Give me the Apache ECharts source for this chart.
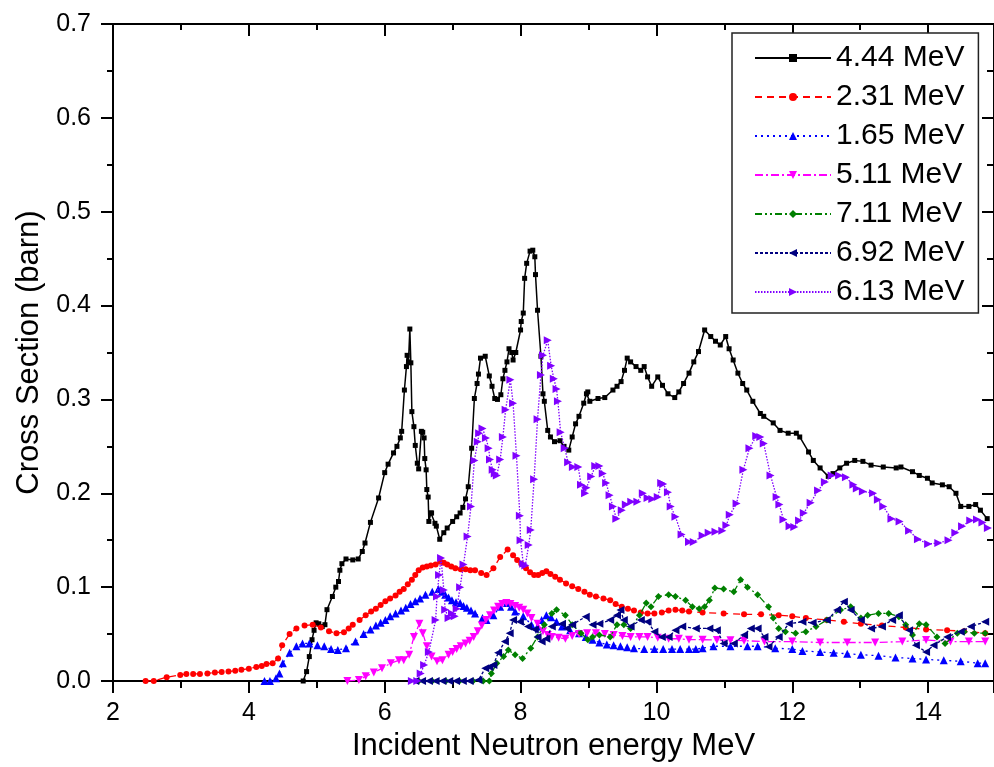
<!DOCTYPE html>
<html>
<head>
<meta charset="utf-8">
<script src="https://cdn.jsdelivr.net/npm/echarts@6/dist/echarts.min.js"></script>
<style>
html,body{margin:0;padding:0;background:#fff;}
#c{width:994px;height:767px;}
</style>
</head>
<body>
<div id="c"></div>
<script>
// ---- data (energy MeV, cross section barn) ----
const names = ['4.44 MeV','2.31 MeV','1.65 MeV','5.11 MeV','7.11 MeV','6.92 MeV','6.13 MeV'];
const xTicks = [2,4,6,8,10,12,14];
const yTicks = [0.0,0.1,0.2,0.3,0.4,0.5,0.6,0.7];

const s444 = [[4.80,0],[4.85,0.010],[4.89,0.026],[4.93,0.044],[4.96,0.054],[4.99,0.062],[5.03,0.061],[5.08,0.058],[5.12,0.060],[5.15,0.076],[5.23,0.090],[5.28,0.100],[5.32,0.106],[5.34,0.118],[5.37,0.125],[5.43,0.130],[5.53,0.129],[5.61,0.130],[5.67,0.138],[5.71,0.147],[5.79,0.169],[5.91,0.195],[6.00,0.222],[6.05,0.231],[6.13,0.243],[6.18,0.250],[6.23,0.259],[6.25,0.266],[6.29,0.310],[6.32,0.335],[6.33,0.347],[6.35,0.340],[6.37,0.375],[6.385,0.339],[6.40,0.287],[6.43,0.271],[6.45,0.251],[6.48,0.232],[6.50,0.226],[6.54,0.266],[6.56,0.265],[6.58,0.259],[6.59,0.237],[6.61,0.225],[6.62,0.204],[6.64,0.196],[6.65,0.170],[6.68,0.179],[6.69,0.179],[6.74,0.168],[6.76,0.165],[6.81,0.151],[6.87,0.158],[6.92,0.163],[7.00,0.170],[7.06,0.175],[7.11,0.179],[7.15,0.185],[7.19,0.194],[7.23,0.207],[7.28,0.248],[7.32,0.301],[7.36,0.317],[7.38,0.327],[7.41,0.344],[7.48,0.346],[7.54,0.325],[7.58,0.314],[7.62,0.301],[7.66,0.300],[7.71,0.305],[7.74,0.322],[7.77,0.331],[7.80,0.340],[7.83,0.354],[7.87,0.350],[7.89,0.342],[7.93,0.350],[8.00,0.374],[8.01,0.383],[8.04,0.392],[8.06,0.429],[8.09,0.445],[8.14,0.458],[8.18,0.459],[8.21,0.452],[8.22,0.433],[8.25,0.395],[8.30,0.346],[8.33,0.306],[8.35,0.298],[8.40,0.267],[8.44,0.260],[8.50,0.255],[8.58,0.256],[8.64,0.250],[8.71,0.246],[8.76,0.260],[8.81,0.274],[8.86,0.282],[8.93,0.296],[8.97,0.306],[8.99,0.308],[9.02,0.298],[9.14,0.301],[9.24,0.302],[9.36,0.310],[9.42,0.314],[9.48,0.319],[9.53,0.331],[9.57,0.344],[9.62,0.340],[9.70,0.335],[9.77,0.331],[9.82,0.335],[9.87,0.324],[9.93,0.314],[10.02,0.324],[10.09,0.315],[10.17,0.306],[10.27,0.302],[10.33,0.308],[10.40,0.317],[10.48,0.328],[10.55,0.340],[10.62,0.351],[10.71,0.374],[10.80,0.367],[10.87,0.362],[10.94,0.358],[11.02,0.367],[11.07,0.354],[11.13,0.342],[11.20,0.328],[11.27,0.317],[11.33,0.310],[11.42,0.298],[11.53,0.285],[11.58,0.282],[11.72,0.275],[11.82,0.267],[11.94,0.264],[12.06,0.264],[12.11,0.260],[12.24,0.244],[12.31,0.235],[12.41,0.227],[12.53,0.218],[12.60,0.221],[12.70,0.227],[12.80,0.232],[12.92,0.235],[13.04,0.234],[13.16,0.230],[13.34,0.228],[13.53,0.227],[13.60,0.228],[13.77,0.223],[13.87,0.219],[13.99,0.216],[14.06,0.211],[14.21,0.209],[14.31,0.207],[14.41,0.200],[14.48,0.186],[14.60,0.186],[14.70,0.188],[14.77,0.182],[14.87,0.173]];

const s231 = [[2.48,0],[2.60,0],[2.79,0.004],[2.99,0.0064],[3.08,0.0075],[3.18,0.0075],[3.28,0.0075],[3.39,0.008],[3.50,0.009],[3.60,0.0095],[3.70,0.010],[3.80,0.011],[3.89,0.012],[4.00,0.013],[4.11,0.015],[4.19,0.016],[4.26,0.018],[4.35,0.019],[4.43,0.024],[4.49,0.038],[4.60,0.050],[4.70,0.056],[4.82,0.059],[4.94,0.060],[5.06,0.057],[5.18,0.053],[5.29,0.051],[5.40,0.052],[5.47,0.056],[5.53,0.060],[5.63,0.065],[5.72,0.070],[5.80,0.074],[5.87,0.077],[5.94,0.081],[6.01,0.085],[6.08,0.088],[6.16,0.091],[6.22,0.095],[6.28,0.098],[6.34,0.103],[6.40,0.108],[6.45,0.113],[6.50,0.118],[6.56,0.121],[6.62,0.122],[6.68,0.123],[6.75,0.124],[6.82,0.127],[6.87,0.126],[6.92,0.124],[6.98,0.122],[7.04,0.120],[7.12,0.119],[7.19,0.119],[7.26,0.118],[7.33,0.118],[7.42,0.115],[7.50,0.113],[7.60,0.120],[7.70,0.132],[7.81,0.140],[7.89,0.134],[7.95,0.129],[8.01,0.125],[8.08,0.120],[8.14,0.116],[8.20,0.113],[8.26,0.113],[8.32,0.115],[8.38,0.117],[8.44,0.114],[8.51,0.111],[8.58,0.108],[8.67,0.104],[8.76,0.101],[8.85,0.098],[8.94,0.095],[9.02,0.092],[9.11,0.090],[9.22,0.088],[9.32,0.086],[9.40,0.082],[9.49,0.079],[9.58,0.077],[9.67,0.075],[9.77,0.073],[9.87,0.072],[9.97,0.072],[10.08,0.073],[10.18,0.075],[10.28,0.076],[10.38,0.075],[10.48,0.074],[10.68,0.073],[10.99,0.072],[11.29,0.071],[11.54,0.071],[11.80,0.070],[12.00,0.069],[12.20,0.067],[12.51,0.065],[12.76,0.063],[13.01,0.061],[13.32,0.059],[13.67,0.057],[13.97,0.055],[14.28,0.054],[14.53,0.053],[14.84,0.051]];

const s165 = [[4.23,0],[4.31,0],[4.40,0.003],[4.45,0.008],[4.50,0.019],[4.60,0.030],[4.70,0.037],[4.79,0.040],[4.89,0.040],[5.01,0.038],[5.11,0.037],[5.21,0.034],[5.31,0.033],[5.43,0.035],[5.57,0.042],[5.69,0.050],[5.79,0.055],[5.87,0.059],[5.94,0.062],[6.01,0.065],[6.08,0.069],[6.16,0.072],[6.24,0.075],[6.31,0.078],[6.38,0.082],[6.45,0.085],[6.52,0.088],[6.60,0.092],[6.70,0.095],[6.79,0.098],[6.84,0.095],[6.89,0.092],[6.94,0.089],[6.99,0.086],[7.05,0.084],[7.11,0.083],[7.16,0.080],[7.21,0.078],[7.27,0.075],[7.33,0.072],[7.44,0.067],[7.50,0.065],[7.60,0.070],[7.70,0.079],[7.80,0.083],[7.86,0.079],[7.92,0.074],[8.04,0.069],[8.16,0.060],[8.25,0.058],[8.31,0.065],[8.38,0.070],[8.45,0.068],[8.53,0.063],[8.61,0.058],[8.73,0.054],[8.86,0.051],[8.96,0.047],[9.06,0.044],[9.16,0.041],[9.27,0.039],[9.37,0.038],[9.47,0.037],[9.57,0.036],[9.67,0.035],[9.82,0.034],[9.97,0.034],[10.10,0.034],[10.23,0.034],[10.35,0.034],[10.48,0.034],[10.58,0.034],[10.68,0.035],[10.84,0.037],[11.09,0.037],[11.34,0.037],[11.49,0.037],[11.75,0.035],[12.00,0.034],[12.15,0.032],[12.41,0.031],[12.61,0.030],[12.81,0.029],[13.01,0.028],[13.27,0.027],[13.52,0.025],[13.77,0.024],[13.97,0.023],[14.23,0.022],[14.48,0.021],[14.73,0.019],[14.84,0.019]];

const s511 = [[5.45,0],[5.62,0.001],[5.72,0.005],[5.84,0.009],[5.96,0.0135],[6.09,0.019],[6.21,0.022],[6.28,0.022],[6.36,0.028],[6.43,0.047],[6.51,0.061],[6.56,0.051],[6.62,0.037],[6.69,0.026],[6.77,0.021],[6.85,0.022],[6.94,0.028],[7.00,0.031],[7.06,0.034],[7.12,0.037],[7.19,0.040],[7.25,0.043],[7.31,0.047],[7.37,0.053],[7.43,0.059],[7.49,0.065],[7.55,0.070],[7.61,0.075],[7.67,0.079],[7.73,0.082],[7.79,0.083],[7.85,0.082],[7.92,0.080],[7.98,0.078],[8.04,0.076],[8.10,0.072],[8.16,0.067],[8.25,0.061],[8.33,0.053],[8.40,0.049],[8.46,0.047],[8.56,0.046],[8.66,0.045],[8.76,0.048],[8.86,0.050],[8.98,0.051],[9.11,0.051],[9.24,0.050],[9.37,0.049],[9.50,0.048],[9.62,0.047],[9.75,0.047],[9.87,0.047],[10.02,0.046],[10.18,0.045],[10.33,0.045],[10.48,0.044],[10.68,0.044],[10.89,0.0437],[11.09,0.0435],[11.29,0.043],[11.59,0.042],[12.00,0.042],[12.41,0.041],[12.81,0.041],[13.22,0.041],[13.62,0.042],[13.97,0.0437],[14.33,0.042],[14.60,0.042],[14.84,0.042]];

const s711 = [[6.50,0],[6.70,0],[6.90,0],[7.10,0],[7.30,0],[7.45,0],[7.54,0],[7.57,0.008],[7.65,0.019],[7.75,0.026],[7.82,0.033],[7.92,0.028],[8.03,0.024],[8.15,0.035],[8.25,0.047],[8.35,0.060],[8.46,0.072],[8.53,0.076],[8.66,0.070],[8.76,0.060],[8.89,0.051],[8.99,0.044],[9.06,0.047],[9.16,0.049],[9.32,0.047],[9.42,0.060],[9.52,0.060],[9.62,0.056],[9.75,0.070],[9.85,0.083],[9.92,0.079],[10.03,0.090],[10.18,0.092],[10.28,0.090],[10.43,0.086],[10.53,0.079],[10.63,0.077],[10.71,0.079],[10.78,0.086],[10.86,0.099],[10.99,0.098],[11.14,0.095],[11.24,0.108],[11.34,0.100],[11.49,0.092],[11.65,0.079],[11.72,0.067],[11.80,0.056],[11.90,0.0526],[12.05,0.051],[12.20,0.0526],[12.35,0.058],[12.51,0.065],[12.71,0.0756],[12.86,0.079],[13.01,0.067],[13.11,0.070],[13.27,0.072],[13.42,0.072],[13.57,0.0685],[13.67,0.060],[13.77,0.049],[13.87,0.061],[13.97,0.060],[14.13,0.047],[14.25,0.040],[14.43,0.051],[14.53,0.0526],[14.68,0.051],[14.84,0.051]];

const s692 = [[6.45,0],[6.55,0],[6.65,0],[6.75,0],[6.85,0],[6.95,0],[7.05,0],[7.15,0],[7.25,0],[7.38,0.001],[7.48,0.0135],[7.54,0.015],[7.60,0.017],[7.67,0.030],[7.77,0.042],[7.84,0.051],[7.89,0.065],[7.99,0.063],[8.11,0.058],[8.21,0.055],[8.25,0.047],[8.31,0.042],[8.38,0.045],[8.46,0.058],[8.61,0.061],[8.68,0.056],[8.76,0.060],[8.96,0.0685],[9.06,0.060],[9.16,0.061],[9.32,0.065],[9.42,0.070],[9.47,0.0756],[9.52,0.065],[9.62,0.058],[9.77,0.065],[9.87,0.063],[9.97,0.0526],[10.08,0.047],[10.18,0.047],[10.28,0.054],[10.38,0.058],[10.58,0.056],[10.78,0.056],[10.89,0.054],[10.99,0.040],[11.14,0.040],[11.29,0.049],[11.39,0.056],[11.49,0.056],[11.59,0.047],[11.65,0.0366],[11.80,0.047],[11.95,0.061],[12.15,0.063],[12.30,0.062],[12.51,0.065],[12.66,0.0756],[12.76,0.0845],[12.86,0.0756],[13.01,0.065],[13.16,0.056],[13.32,0.058],[13.47,0.065],[13.57,0.070],[13.72,0.054],[13.82,0.038],[13.97,0.031],[14.08,0.038],[14.28,0.047],[14.48,0.0526],[14.63,0.058],[14.84,0.063]];

const s613 = [[6.40,0],[6.48,0],[6.53,0.008],[6.58,0.017],[6.65,0.031],[6.75,0.065],[6.77,0.090],[6.80,0.113],[6.83,0.131],[6.87,0.097],[6.89,0.076],[6.94,0.067],[6.99,0.072],[7.03,0.069],[7.06,0.077],[7.11,0.100],[7.16,0.124],[7.22,0.154],[7.27,0.186],[7.32,0.235],[7.37,0.255],[7.39,0.264],[7.44,0.269],[7.49,0.259],[7.53,0.248],[7.55,0.236],[7.59,0.225],[7.62,0.221],[7.65,0.219],[7.70,0.236],[7.74,0.260],[7.78,0.289],[7.85,0.321],[7.89,0.296],[7.94,0.240],[7.99,0.176],[8.00,0.150],[8.04,0.125],[8.07,0.123],[8.12,0.145],[8.15,0.161],[8.20,0.215],[8.25,0.279],[8.30,0.326],[8.33,0.347],[8.40,0.363],[8.45,0.336],[8.49,0.322],[8.53,0.311],[8.55,0.298],[8.59,0.265],[8.65,0.248],[8.70,0.233],[8.77,0.228],[8.85,0.228],[8.89,0.209],[8.95,0.200],[8.97,0.206],[9.04,0.218],[9.10,0.229],[9.16,0.229],[9.21,0.221],[9.26,0.211],[9.31,0.198],[9.36,0.186],[9.41,0.173],[9.49,0.182],[9.55,0.188],[9.63,0.191],[9.72,0.191],[9.80,0.200],[9.87,0.195],[9.94,0.194],[10.02,0.196],[10.07,0.211],[10.10,0.210],[10.17,0.201],[10.21,0.186],[10.28,0.175],[10.37,0.156],[10.48,0.148],[10.55,0.148],[10.68,0.155],[10.77,0.158],[10.87,0.159],[10.97,0.160],[11.03,0.166],[11.08,0.177],[11.18,0.189],[11.28,0.225],[11.37,0.248],[11.47,0.261],[11.53,0.260],[11.58,0.253],[11.68,0.219],[11.77,0.196],[11.81,0.188],[11.87,0.172],[11.96,0.165],[12.03,0.164],[12.10,0.171],[12.17,0.179],[12.27,0.190],[12.38,0.203],[12.48,0.212],[12.58,0.219],[12.69,0.219],[12.79,0.217],[12.90,0.209],[12.95,0.205],[13.04,0.202],[13.19,0.200],[13.26,0.193],[13.34,0.186],[13.46,0.173],[13.58,0.170],[13.72,0.160],[13.85,0.151],[14.00,0.146],[14.15,0.147],[14.30,0.150],[14.40,0.158],[14.50,0.165],[14.62,0.171],[14.72,0.172],[14.80,0.169],[14.88,0.163]];

const seriesData = [s444, s231, s165, s511, s711, s692, s613];

// ---- styles ----
const styles = [
  {color:'#000000', dash:'solid', sym:'rect', size:5, rot:0, w:1.5},
  {color:'#FF0000', dash:[7,5], sym:'circle', size:6, rot:0, w:1.3},
  {color:'#0000FF', dash:[2,4], sym:'triangle', size:8, rot:0, w:1.3},
  {color:'#FF00FF', dash:[8,3,2,3], sym:'triangle', size:8, rot:180, w:1.3},
  {color:'#008000', dash:[7,3,2,3,2,3], sym:'diamond', size:7, rot:0, w:1.3},
  {color:'#000080', dash:[3,2], sym:'triangle', size:8, rot:90, w:1.3},
  {color:'#8000FF', dash:[1.5,1.5], sym:'triangle', size:8, rot:-90, w:1.3}
];

const FONT = 'Liberation Sans, Arial, sans-serif';
const chart = echarts.init(document.getElementById('c'), null, {renderer:'canvas'});

const series = seriesData.map((d,i)=>({
  name: names[i],
  type: 'line',
  data: d,
  xAxisIndex: 0, yAxisIndex: 0,
  symbol: styles[i].sym,
  symbolSize: styles[i].size,
  symbolRotate: styles[i].rot,
  showAllSymbol: true,
  lineStyle: {color: styles[i].color, width: styles[i].w, type: styles[i].dash},
  itemStyle: {color: styles[i].color, borderWidth: 0},
  emphasis: {disabled: true},
  z: 2 + i
}));

const axisLineStyle = {color:'#000', width:2};
const xMin = xTicks[0], xMax = 14.97, yMin = yTicks[0], yMax = yTicks[yTicks.length-1];

chart.setOption({
  animation: false,
  backgroundColor: '#fff',
  grid: {left: 113, right: -5, top: 24, bottom: 86, containLabel: false},
  legend: {
    orient: 'vertical',
    left: 732, top: 33,
    padding: [8, 14, 4, 22],
    itemWidth: 76, itemHeight: 10, itemGap: 5,
    backgroundColor: '#fff',
    borderColor: '#222', borderWidth: 1.5, borderRadius: 0,
    textStyle: {fontFamily: FONT, fontSize: 30, color: '#000', lineHeight: 34},
    data: names
  },
  xAxis: [{
    type: 'value', position: 'bottom', min: xMin, max: xMax, interval: 2,
    name: 'Incident Neutron energy MeV', nameLocation: 'middle', nameGap: 48,
    nameTextStyle: {fontFamily: FONT, fontSize: 31, color: '#000'},
    axisLine: {show: true, onZero: false, lineStyle: axisLineStyle},
    axisTick: {show: true, inside: false, length: 12, lineStyle: {color:'#000', width: 2}},
    minorTick: {show: true, splitNumber: 2, length: 7, lineStyle: {color:'#000', width: 2}},
    axisLabel: {fontFamily: FONT, fontSize: 25, color: '#000', margin: 20, showMaxLabel: false},
    splitLine: {show: false}
  },{
    type: 'value', position: 'top', min: xMin, max: xMax, interval: 2,
    axisLine: {show: true, onZero: false, lineStyle: axisLineStyle},
    axisTick: {show: true, inside: true, length: 12, lineStyle: {color:'#000', width: 2}},
    minorTick: {show: true, splitNumber: 2, length: 6, lineStyle: {color:'#000', width: 2}},
    axisLabel: {show: false},
    splitLine: {show: false}
  }],
  yAxis: [{
    type: 'value', position: 'left', min: yMin, max: yMax, interval: 0.1,
    name: 'Cross Section (barn)', nameLocation: 'middle', nameGap: 62,
    nameTextStyle: {fontFamily: FONT, fontSize: 31, color: '#000'},
    axisLine: {show: true, onZero: false, lineStyle: axisLineStyle},
    axisTick: {show: true, inside: false, length: 12, lineStyle: {color:'#000', width: 2}},
    minorTick: {show: true, splitNumber: 2, length: 6, lineStyle: {color:'#000', width: 2}},
    axisLabel: {fontFamily: FONT, fontSize: 25, color: '#000', margin: 22,
      formatter: v => v.toFixed(1)},
    splitLine: {show: false}
  },{
    type: 'value', position: 'right', min: yMin, max: yMax, interval: 0.1,
    axisLine: {show: true, onZero: false, lineStyle: axisLineStyle},
    axisTick: {show: true, inside: true, length: 12, lineStyle: {color:'#000', width: 2}},
    minorTick: {show: true, splitNumber: 2, length: 7, lineStyle: {color:'#000', width: 2}},
    axisLabel: {show: false},
    splitLine: {show: false}
  }],
  series: series
});
</script>
</body>
</html>
